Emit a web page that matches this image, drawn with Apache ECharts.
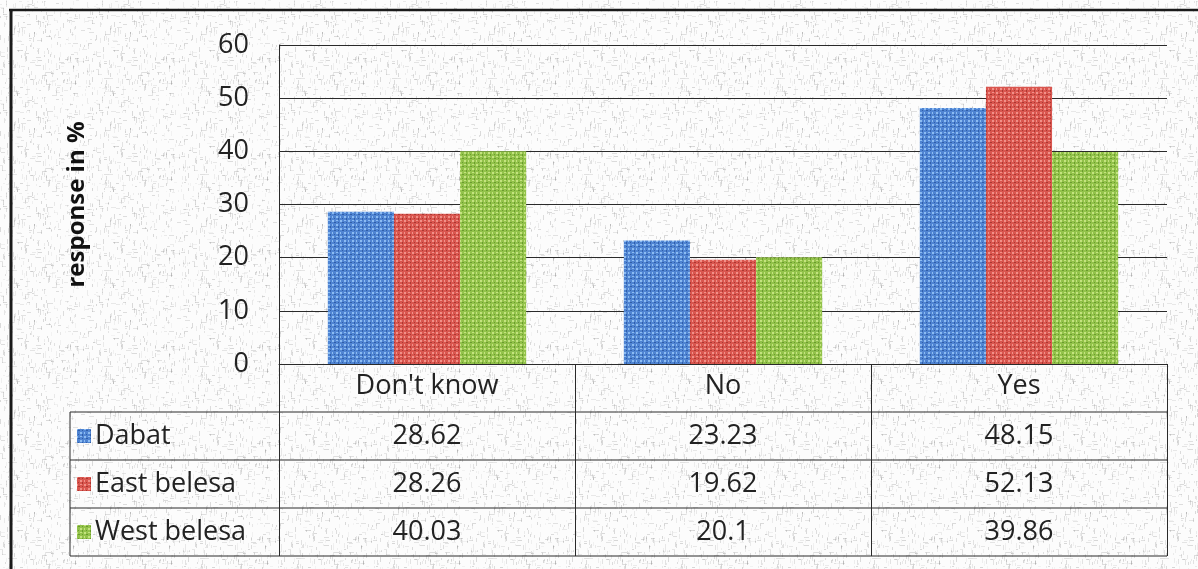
<!DOCTYPE html>
<html>
<head>
<meta charset="utf-8">
<title>Response in %</title>
<script src="https://cdn.jsdelivr.net/npm/echarts@6/dist/echarts.min.js"></script>
<style>
  html, body { margin: 0; padding: 0; background: #fff; }
  #chart { width: 1198px; height: 569px; }
</style>
</head>
<body>
<div id="chart"></div>
<script>
// ---- data ----
const categories = ["Don't know", "No", "Yes"];
const seriesNames = ['Dabat', 'East belesa', 'West belesa'];
const dabat = [28.62, 23.23, 48.15];
const eastBelesa = [28.26, 19.62, 52.13];
const westBelesa = [40.03, 20.1, 39.86];
const yTicks = [0, 10, 20, 30, 40, 50, 60];
const yTitle = 'response in %';

// ---- layout / style ----
const FONT = '"Open Sans", "Liberation Sans", sans-serif';
const FS = 27;
const GRID = { left: 279, right: 31, top: 45, bottom: 205 };
const ROW_H = 48;
const TABLE_LEFT = 70;
const LINE = '#2a2a2a';

// deterministic hash for texture speckle
function hash(i) {
  const v = Math.sin(i * 12.9898 + 78.233) * 43758.5453;
  return v - Math.floor(v);
}

// canvas-paper texture for the page background
function paperTexture() {
  const c = document.createElement('canvas');
  c.width = 96; c.height = 96;
  const g = c.getContext('2d');
  g.fillStyle = '#fcfcfc';
  g.fillRect(0, 0, 96, 96);
  for (let k = 0; k < 420; k++) {
    const x = Math.floor(hash(k * 3 + 1) * 96);
    const y = Math.floor(hash(k * 3 + 2) * 96);
    const len = 2 + Math.floor(hash(k * 3 + 3) * 4);
    const a = 0.06 + hash(k * 7 + 5) * 0.2;
    g.fillStyle = 'rgba(110,110,110,' + a.toFixed(3) + ')';
    if (k % 3) g.fillRect(x, y, 1, len); else g.fillRect(x, y, len, 1);
  }
  return c;
}

// woven emboss texture for bar fills
function weave(base, light, dark) {
  const c = document.createElement('canvas');
  c.width = 8; c.height = 8;
  const g = c.getContext('2d');
  g.fillStyle = base;
  g.fillRect(0, 0, 8, 8);
  g.fillStyle = light;
  g.fillRect(0, 0, 2, 2);
  g.fillRect(4, 4, 2, 2);
  g.fillRect(4, 0, 1, 2);
  g.fillRect(0, 4, 2, 1);
  g.fillStyle = dark;
  g.fillRect(2, 2, 1, 2);
  g.fillRect(6, 6, 2, 1);
  g.fillRect(6, 2, 1, 1);
  g.fillRect(2, 6, 1, 1);
  return { image: c, repeat: 'repeat' };
}

const fills = [
  weave('#4f84d2', '#8cbcf2', '#2f5ea8'),
  weave('#d9564f', '#f19189', '#ab3731'),
  weave('#92c24a', '#c4e380', '#6a9a2e')
];
const seriesData = [dabat, eastBelesa, westBelesa];

document.getElementById('chart').style.backgroundImage =
  'url(' + paperTexture().toDataURL() + ')';

const chart = echarts.init(document.getElementById('chart'), null, { renderer: 'canvas' });

chart.setOption({
  backgroundColor: 'transparent',
  animation: false,
  grid: GRID,
  xAxis: {
    type: 'category',
    data: categories,
    axisLine: { show: true, lineStyle: { color: LINE, width: 1 } },
    axisTick: { show: true, interval: 0, length: ROW_H * 4, lineStyle: { color: LINE, width: 1 } },
    axisLabel: { interval: 0, margin: 9, fontFamily: FONT, fontSize: FS, color: '#222' },
    splitLine: { show: false }
  },
  yAxis: {
    type: 'value',
    min: yTicks[0],
    max: yTicks[yTicks.length - 1],
    interval: yTicks[1] - yTicks[0],
    name: yTitle,
    nameLocation: 'middle',
    nameRotate: 90,
    nameGap: 190,
    nameTextStyle: { fontFamily: FONT, fontSize: 24, fontWeight: 'bold', color: '#111' },
    axisLine: { show: true, lineStyle: { color: LINE, width: 1 } },
    axisTick: { show: false },
    axisLabel: { margin: 30, fontFamily: FONT, fontSize: FS, color: '#222' },
    splitLine: { show: true, lineStyle: { color: LINE, width: 1 } }
  },
  series: seriesNames.map((name, i) => ({
    name: name,
    type: 'bar',
    data: seriesData[i],
    barGap: '0%',
    barCategoryGap: '33%',
    itemStyle: { color: fills[i] }
  }))
});

// data table beneath the plot, positioned from the axis scale
function buildTable() {
  const W = chart.getWidth(), H = chart.getHeight();
  const axisY = H - GRID.bottom;
  const right = W - GRID.right;
  const rowTop = axisY + ROW_H;
  const els = [];

  // frame lines of the figure
  els.push({ type: 'line', shape: { x1: 9, y1: 10, x2: W, y2: 10 }, style: { stroke: '#1a1a1a', lineWidth: 2.5 } });
  els.push({ type: 'line', shape: { x1: 11, y1: 9, x2: 11, y2: H }, style: { stroke: '#1a1a1a', lineWidth: 3 } });

  // horizontal rules of the series rows
  for (let r = 0; r <= seriesNames.length; r++) {
    const y = rowTop + r * ROW_H;
    els.push({ type: 'line', shape: { x1: TABLE_LEFT, y1: y, x2: right, y2: y }, style: { stroke: LINE, lineWidth: 1 } });
  }
  els.push({ type: 'line', shape: { x1: TABLE_LEFT, y1: rowTop, x2: TABLE_LEFT, y2: rowTop + ROW_H * seriesNames.length }, style: { stroke: LINE, lineWidth: 1 } });

  seriesNames.forEach((name, i) => {
    const cy = rowTop + i * ROW_H + ROW_H / 2;
    els.push({ type: 'rect', shape: { x: 77, y: cy - 7, width: 14, height: 14 }, style: { fill: fills[i] } });
    els.push({
      type: 'text', x: 95, y: cy,
      style: { text: name, fontFamily: FONT, fontSize: FS, fill: '#222', align: 'left', verticalAlign: 'middle' }
    });
    seriesData[i].forEach((v, j) => {
      const cx = chart.convertToPixel({ xAxisIndex: 0 }, categories[j]);
      els.push({
        type: 'text', x: cx, y: cy,
        style: { text: String(v), fontFamily: FONT, fontSize: FS, fill: '#222', align: 'center', verticalAlign: 'middle' }
      });
    });
  });
  chart.setOption({ graphic: { elements: els } });
}
buildTable();
</script>
</body>
</html>
